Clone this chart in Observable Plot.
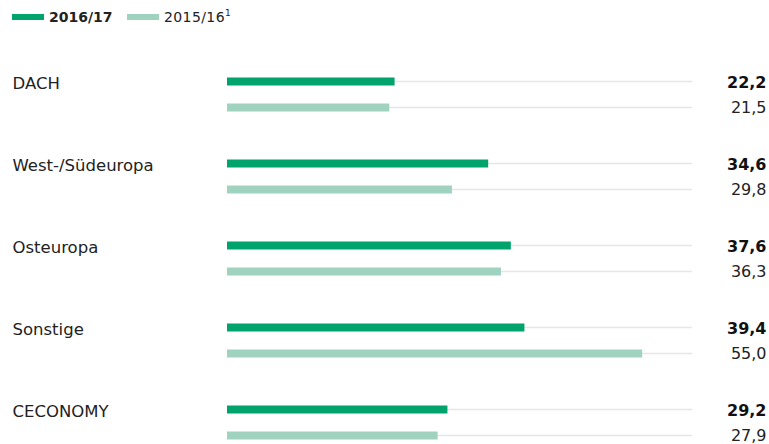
<!DOCTYPE html>
<html>
<head>
<meta charset="utf-8">
<script src="https://cdn.jsdelivr.net/npm/d3@7"></script>
<script src="https://cdn.jsdelivr.net/npm/@observablehq/plot@0.6"></script>
<style>
  html, body { margin: 0; padding: 0; background: #fff; }
  body { width: 769px; height: 444px; overflow: hidden; font-family: "DejaVu Sans", sans-serif; }
  #legend { height: 40px; position: relative; font-size: 14px; color: #222; }
  .item { position: absolute; top: 9px; display: flex; align-items: center; }
  .sw { width: 32px; height: 6px; margin-right: 5px; }
  .reg { letter-spacing: 0.4px; }
  sup { font-size: 9px; vertical-align: 6px; line-height: 0; letter-spacing: 0; }
</style>
</head>
<body>
<div id="legend">
  <div class="item" style="left:12px"><span class="sw" style="background:#00a36c"></span><b>2016/17</b></div>
  <div class="item" style="left:127px"><span class="sw" style="background:#9fd3c0"></span><span class="reg">2015/16<sup>1</sup></span></div>
</div>
<div id="chart"></div>
<script>
const regions = ["DACH", "West-/Südeuropa", "Osteuropa", "Sonstige", "CECONOMY"];
const current = [22.2, 34.6, 37.6, 39.4, 29.2];   // 2016/17
const previous = [21.5, 29.8, 36.3, 55.0, 27.9];  // 2015/16
const xMax = 61.6;

const colorCur = "#00a36c";
const colorPrev = "#9fd3c0";
const fmt = v => d3.format(".1f")(v).replace(".", ",");

const rows = regions.map((r, i) => ({region: r, cur: current[i], prev: previous[i]}));

const chart = Plot.plot({
  width: 769,
  height: 404,
  marginLeft: 227,
  marginRight: 77,
  marginTop: 54,
  marginBottom: 22,
  style: {fontFamily: "DejaVu Sans, sans-serif", background: "#fff"},
  x: {domain: [0, xMax], axis: null},
  y: {type: "point", domain: regions, padding: 0, axis: null},
  marks: [
    Plot.ruleY(rows, {y: "region", x1: 0, x2: xMax, stroke: "#e6e6e6", strokeWidth: 1.5, dy: -13}),
    Plot.ruleY(rows, {y: "region", x1: 0, x2: xMax, stroke: "#e6e6e6", strokeWidth: 1.5, dy: 13}),
    Plot.ruleY(rows, {y: "region", x1: 0, x2: "cur", stroke: colorCur, strokeWidth: 8, dy: -13}),
    Plot.ruleY(rows, {y: "region", x1: 0, x2: "prev", stroke: colorPrev, strokeWidth: 8, dy: 13}),
    Plot.text(rows, {y: "region", text: "region", frameAnchor: "left", textAnchor: "start", dx: -215, dy: -11, fontSize: 16.5, fill: "#222", style: {letterSpacing: "0.8px"}}),
    Plot.text(rows, {y: "region", text: d => fmt(d.cur), frameAnchor: "right", textAnchor: "end", dx: 74, dy: -12, fontSize: 16, fontWeight: "bold", fill: "#111"}),
    Plot.text(rows, {y: "region", text: d => fmt(d.prev), frameAnchor: "right", textAnchor: "end", dx: 74, dy: 13, fontSize: 16, fill: "#222"})
  ]
});
document.getElementById("chart").appendChild(chart);
</script>
</body>
</html>
